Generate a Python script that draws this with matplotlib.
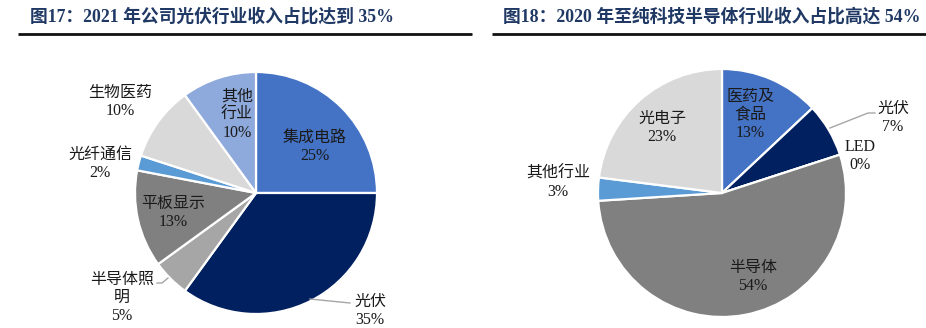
import matplotlib
matplotlib.use("Agg")
import matplotlib.pyplot as plt

plt.rcParams["font.family"] = ["Liberation Serif", "Noto Sans CJK SC"]

# ------------------------------------------------------------
# Data
# ------------------------------------------------------------
left_title = "图17：2021 年公司光伏行业收入占比达到 35%"
left_labels = ["集成电路", "光伏", "半导体照明", "平板显示", "光纤通信", "生物医药", "其他行业"]
left_values = [25, 35, 5, 13, 2, 10, 10]
left_colors = ["#4472C4", "#002060", "#A6A6A6", "#808080", "#5B9BD5", "#D9D9D9", "#8EA9DB"]

right_title = "图18：2020 年至纯科技半导体行业收入占比高达 54%"
right_labels = ["医药及食品", "光伏", "LED", "半导体", "其他行业", "光电子"]
right_values = [13, 7, 0, 54, 3, 23]
right_colors = ["#4472C4", "#002060", "#A6A6A6", "#808080", "#5B9BD5", "#D9D9D9"]

W, H = 926, 328
TITLE_COLOR = "#1F3864"
TEXT_COLOR = "#1a1a1a"

fig = plt.figure(figsize=(W / 100, H / 100), dpi=100)
ax = fig.add_axes([0, 0, 1, 1])


def Y(y):
    # pixel rows counted from the top
    return H - y


# ------------------------------------------------------------
# Pies
# ------------------------------------------------------------
wedge_style = dict(edgecolor="white", linewidth=1.6)
ax.pie(left_values, colors=left_colors, startangle=90, counterclock=False,
       center=(256, Y(193)), radius=121, wedgeprops=wedge_style)
ax.pie(right_values, colors=right_colors, startangle=90, counterclock=False,
       center=(722, Y(193)), radius=124, wedgeprops=wedge_style)

ax.set_xlim(0, W)
ax.set_ylim(0, H)
ax.set_aspect("equal")
ax.axis("off")

# ------------------------------------------------------------
# Titles and rules
# ------------------------------------------------------------
ax.text(30, Y(17), left_title, fontsize=12.8, fontweight="bold",
        color=TITLE_COLOR, ha="left", va="center")
ax.text(503, Y(17), right_title, fontsize=12.8, fontweight="bold",
        color=TITLE_COLOR, ha="left", va="center")
ax.plot([18, 472], [Y(34), Y(34)], color="#111111", lw=2.0, solid_capstyle="butt")
ax.plot([492, W], [Y(34), Y(34)], color="#111111", lw=2.0, solid_capstyle="butt")

# ------------------------------------------------------------
# Slice labels (name + percent)
# ------------------------------------------------------------
def label(x, y, name, value):
    ax.text(x, Y(y), f"{name}\n{value}%", fontsize=11.5, color=TEXT_COLOR,
            ha="center", va="center", linespacing=1.2)


left_pos = {
    "集成电路": (315, 147, "集成电路"),
    "光伏": (370, 311, "光伏"),
    "半导体照明": (122, 298, "半导体照\n明"),
    "平板显示": (173, 213, "平板显示"),
    "光纤通信": (100, 164, "光纤通信"),
    "生物医药": (120, 102, "生物医药"),
    "其他行业": (237, 115, "其他\n行业"),
}
for name, val in zip(left_labels, left_values):
    x, y, txt = left_pos[name]
    label(x, y, txt, val)

right_pos = {
    "医药及食品": (750, 115, "医药及\n食品"),
    "光伏": (893, 118, "光伏"),
    "LED": (860, 156, "LED"),
    "半导体": (753, 277, "半导体"),
    "其他行业": (558, 183, "其他行业"),
    "光电子": (662, 128, "光电子"),
}
for name, val in zip(right_labels, right_values):
    x, y, txt = right_pos[name]
    label(x, y, txt, val)

# leader lines
lead = dict(color="#A6A6A6", lw=1.0)
ax.plot([310, 350], [Y(299), Y(303)], **lead)
ax.plot([157, 162, 168], [Y(283), Y(283), Y(278)], **lead)
ax.plot([830, 868, 875], [Y(128), Y(113), Y(113)], **lead)

fig.savefig("out.png", dpi=100)
